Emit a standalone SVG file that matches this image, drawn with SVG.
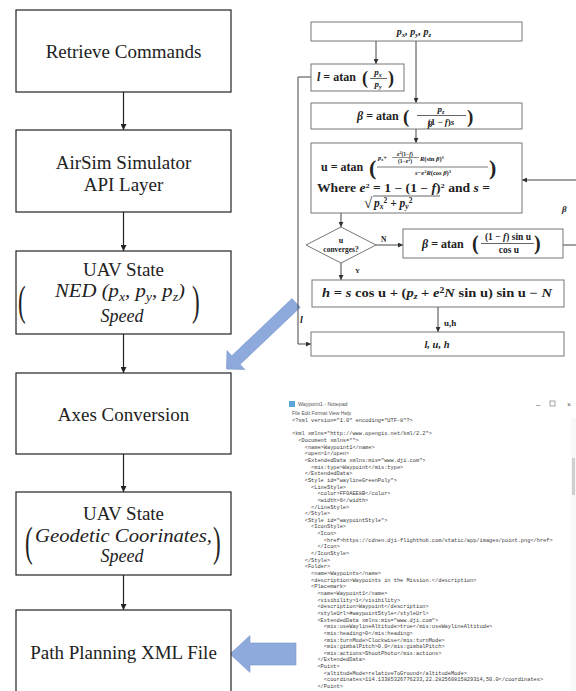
<svg xmlns="http://www.w3.org/2000/svg" width="576" height="691" viewBox="0 0 576 691">
<defs>
<marker id="ah" viewBox="0 0 8 8" refX="8" refY="4" markerWidth="6" markerHeight="6" markerUnits="userSpaceOnUse" orient="auto">
<path d="M0,0 L8,4 L0,8 Z" fill="#222"/>
</marker>
<marker id="ah2" viewBox="0 0 8 8" refX="8" refY="4" markerWidth="5" markerHeight="5" markerUnits="userSpaceOnUse" orient="auto">
<path d="M0,0 L8,4 L0,8 Z" fill="#333"/>
</marker>
</defs>
<style>
.box{fill:#fff;stroke:#222;stroke-width:1.2}
.rbox{fill:#fff;stroke:#777;stroke-width:1}
.lt{font-family:"Liberation Serif",serif;font-size:19px;fill:#222;text-anchor:middle}
.mt{font-family:"Liberation Serif",serif;font-style:italic;font-size:18px;fill:#222}
.par{font-family:"Liberation Serif",serif;font-size:46px;fill:#222;font-weight:normal}
.conn{fill:none;stroke:#222;stroke-width:1.2}
.rconn{fill:none;stroke:#444;stroke-width:1}
.f{font-family:"Liberation Serif",serif;font-weight:bold;fill:#222}
.i{font-style:italic}
.blue{fill:#8EA9DB;stroke:#7C98CF;stroke-width:0.6}
.code{font-family:"Liberation Mono",monospace;font-size:5.3px;fill:#3a3a3a;white-space:pre}
.ui{font-family:"Liberation Sans",sans-serif;fill:#555}
</style>

<!-- Notepad screenshot -->
<g id="notepad">
<rect x="285" y="396" width="291" height="295" fill="#fff"/>
<rect x="289" y="401" width="6" height="6" fill="#5aa7d8"/>
<text class="ui" x="298" y="406" font-size="5.3">Waypoint1 - Notepad</text>
<text class="ui" x="536" y="407" font-size="8">–</text>
<rect x="550" y="401" width="5" height="5" fill="none" stroke="#666" stroke-width="0.6"/>
<text class="ui" x="567" y="407" font-size="7">×</text>
<text class="ui" x="292" y="415" font-size="5" fill="#333">File  Edit  Format  View  Help</text>
<rect x="571" y="418" width="5" height="273" fill="#f8f8f8"/>
<rect x="572" y="458" width="3" height="37" fill="#cfcfcf"/>
<text class="code" x="292" y="422">&lt;?xml version="1.0" encoding="UTF-8"?&gt;</text>
<text class="code" x="292" y="435.3">&lt;kml xmlns="http://www.opengis.net/kml/2.2"&gt;</text>
<text class="code" x="292" y="442">  &lt;Document xmlns=""&gt;</text>
<text class="code" x="292" y="448.6">    &lt;name&gt;Waypoint1&lt;/name&gt;</text>
<text class="code" x="292" y="455.3">    &lt;open&gt;1&lt;/open&gt;</text>
<text class="code" x="292" y="461.9">    &lt;ExtendedData xmlns:mis="www.dji.com"&gt;</text>
<text class="code" x="292" y="468.6">      &lt;mis:type&gt;Waypoint&lt;/mis:type&gt;</text>
<text class="code" x="292" y="475.2">    &lt;/ExtendedData&gt;</text>
<text class="code" x="292" y="481.9">    &lt;Style id="waylineGreenPoly"&gt;</text>
<text class="code" x="292" y="488.5">      &lt;LineStyle&gt;</text>
<text class="code" x="292" y="495.2">        &lt;color&gt;FF0AEE8B&lt;/color&gt;</text>
<text class="code" x="292" y="501.8">        &lt;width&gt;6&lt;/width&gt;</text>
<text class="code" x="292" y="508.5">      &lt;/LineStyle&gt;</text>
<text class="code" x="292" y="515.1">    &lt;/Style&gt;</text>
<text class="code" x="292" y="521.8">    &lt;Style id="waypointStyle"&gt;</text>
<text class="code" x="292" y="528.4">      &lt;IconStyle&gt;</text>
<text class="code" x="292" y="535.1">        &lt;Icon&gt;</text>
<text class="code" x="292" y="541.7">          &lt;href&gt;https://cdnen.dji-flighthub.com/static/app/images/point.png&lt;/href&gt;</text>
<text class="code" x="292" y="548.4">        &lt;/Icon&gt;</text>
<text class="code" x="292" y="555">      &lt;/IconStyle&gt;</text>
<text class="code" x="292" y="561.7">    &lt;/Style&gt;</text>
<text class="code" x="292" y="568.3">    &lt;Folder&gt;</text>
<text class="code" x="292" y="575">      &lt;name&gt;Waypoints&lt;/name&gt;</text>
<text class="code" x="292" y="581.6">      &lt;description&gt;Waypoints in the Mission.&lt;/description&gt;</text>
<text class="code" x="292" y="588.3">      &lt;Placemark&gt;</text>
<text class="code" x="292" y="594.9">        &lt;name&gt;Waypoint1&lt;/name&gt;</text>
<text class="code" x="292" y="601.6">        &lt;visibility&gt;1&lt;/visibility&gt;</text>
<text class="code" x="292" y="608.2">        &lt;description&gt;Waypoint&lt;/description&gt;</text>
<text class="code" x="292" y="614.9">        &lt;styleUrl&gt;#waypointStyle&lt;/styleUrl&gt;</text>
<text class="code" x="292" y="621.5">        &lt;ExtendedData xmlns:mis="www.dji.com"&gt;</text>
<text class="code" x="292" y="628.2">          &lt;mis:useWaylineAltitude&gt;true&lt;/mis:useWaylineAltitude&gt;</text>
<text class="code" x="292" y="634.8">          &lt;mis:heading&gt;0&lt;/mis:heading&gt;</text>
<text class="code" x="292" y="641.5">          &lt;mis:turnMode&gt;Clockwise&lt;/mis:turnMode&gt;</text>
<text class="code" x="292" y="648.1">          &lt;mis:gimbalPitch&gt;0.0&lt;/mis:gimbalPitch&gt;</text>
<text class="code" x="292" y="654.8">          &lt;mis:actions&gt;ShootPhoto&lt;/mis:actions&gt;</text>
<text class="code" x="292" y="661.4">        &lt;/ExtendedData&gt;</text>
<text class="code" x="292" y="668.1">        &lt;Point&gt;</text>
<text class="code" x="292" y="674.7">          &lt;altitudeMode&gt;relativeToGround&lt;/altitudeMode&gt;</text>
<text class="code" x="292" y="681.4">          &lt;coordinates&gt;114.13385326776233,22.282560815829314,50.0&lt;/coordinates&gt;</text>
<text class="code" x="292" y="688">        &lt;/Point&gt;</text>
</g>

<!-- Blue block arrows -->
<g id="blue-arrows">
<polygon class="blue" transform="translate(226.5,369) rotate(-43.5)" points="0,0 13,-13 13,-6 96,-6 96,6 13,6 13,13"/>
<polygon class="blue" points="230,654 250,635.5 250,643 296,643 296,665 250,665 250,672.5"/>
</g>

<!-- Connectors -->
<g id="connectors">
<line class="conn" x1="123.5" y1="92" x2="123.5" y2="130" marker-end="url(#ah)"/>
<line class="conn" x1="123.5" y1="212" x2="123.5" y2="251" marker-end="url(#ah)"/>
<line class="conn" x1="123.5" y1="334" x2="123.5" y2="373" marker-end="url(#ah)"/>
<line class="conn" x1="123.5" y1="454" x2="123.5" y2="492" marker-end="url(#ah)"/>
<line class="conn" x1="123.5" y1="575" x2="123.5" y2="610" marker-end="url(#ah)"/>
<line class="rconn" x1="376" y1="41" x2="376" y2="64" marker-end="url(#ah2)"/>
<line class="rconn" x1="416" y1="41" x2="416" y2="103" marker-end="url(#ah2)"/>
<polyline class="rconn" points="311,77 298,77 298,344 311,344" marker-end="url(#ah2)"/>
<line class="rconn" x1="416" y1="129" x2="416" y2="143" marker-end="url(#ah2)"/>
<line class="rconn" x1="341" y1="213" x2="341" y2="227" marker-end="url(#ah2)"/>
<line class="rconn" x1="376" y1="245" x2="403" y2="245" marker-end="url(#ah2)"/>
<line class="rconn" x1="563" y1="245" x2="576" y2="245"/>
<line class="rconn" x1="576" y1="180" x2="522" y2="180" marker-end="url(#ah2)"/>
<line class="rconn" x1="341" y1="263" x2="341" y2="280" marker-end="url(#ah2)"/>
<line class="rconn" x1="438" y1="307" x2="438" y2="332" marker-end="url(#ah2)"/>
<text class="f" x="381" y="242" font-size="7.5">N</text>
<text class="f" x="355" y="273" font-size="7">Y</text>
<text class="f" x="444" y="326" font-size="9">u,h</text>
<text class="f i" x="300" y="323" font-size="10">l</text>
<text class="f i" x="562" y="212" font-size="9">β</text>
</g>

<!-- Left column nodes -->
<g id="n-retrieve">
<rect class="box" x="16" y="10" width="215" height="82"/>
<text class="lt" x="123.5" y="58">Retrieve Commands</text>
</g>
<g id="n-airsim">
<rect class="box" x="16" y="130" width="215" height="82"/>
<text class="lt" x="123.5" y="169">AirSim Simulator</text>
<text class="lt" x="123.5" y="191">API Layer</text>
</g>
<g id="n-uav-ned">
<rect class="box" x="16" y="251" width="215" height="83"/>
<text class="lt" x="123.5" y="276">UAV State</text>
<text class="par" transform="translate(18,315) scale(0.5,0.92)">(</text>
<text class="mt" x="55" y="297" textLength="130" lengthAdjust="spacingAndGlyphs">NED (p<tspan font-size="12" dy="4">x</tspan><tspan dy="-4">, p</tspan><tspan font-size="12" dy="4">y</tspan><tspan dy="-4">, p</tspan><tspan font-size="12" dy="4">z</tspan><tspan dy="-4">)</tspan></text>
<text class="mt" x="122" y="322" text-anchor="middle">Speed</text>
<text class="par" transform="translate(192,315) scale(0.5,0.92)">)</text>
</g>
<g id="n-axes">
<rect class="box" x="16" y="373" width="215" height="81"/>
<text class="lt" x="123.5" y="421">Axes Conversion</text>
</g>
<g id="n-uav-geo">
<rect class="box" x="16" y="492" width="215" height="83"/>
<text class="lt" x="123.5" y="520">UAV State</text>
<text class="par" transform="translate(25,556) scale(0.5,0.92)">(</text>
<text class="mt" x="35" y="542" textLength="177" lengthAdjust="spacingAndGlyphs">Geodetic Coorinates,</text>
<text class="mt" x="122" y="562" text-anchor="middle">Speed</text>
<text class="par" transform="translate(213,556) scale(0.5,0.92)">)</text>
</g>
<g id="n-path-xml">
<rect class="box" x="16" y="610" width="215" height="90"/>
<text class="lt" x="123.5" y="659">Path Planning XML File</text>
</g>

<!-- Right flowchart nodes -->
<g id="r-input">
<rect class="rbox" x="311" y="22" width="211" height="19"/>
<text class="f i" x="414" y="35" font-size="10" text-anchor="middle">p<tspan font-size="7" dy="2">x</tspan><tspan dy="-2">, p</tspan><tspan font-size="7" dy="2">y</tspan><tspan dy="-2">, p</tspan><tspan font-size="7" dy="2">z</tspan></text>
</g>
<g id="r-l">
<rect class="rbox" x="311" y="64" width="93" height="27"/>
<text class="f" x="317" y="81" font-size="12"><tspan class="i">l</tspan> = atan</text>
<text class="f" x="362" y="84" font-size="18" font-weight="normal">(</text>
<text class="f i" x="378" y="75" font-size="9" text-anchor="middle">p<tspan font-size="6" dy="1.5">x</tspan></text>
<line x1="370" y1="78.5" x2="387" y2="78.5" stroke="#222" stroke-width="0.7"/>
<text class="f i" x="378" y="87" font-size="9" text-anchor="middle">p<tspan font-size="6" dy="1.5">y</tspan></text>
<text class="f" x="388" y="84" font-size="18" font-weight="normal">)</text>
</g>
<g id="r-beta1">
<rect class="rbox" x="311" y="103" width="211" height="26"/>
<text class="f" x="357" y="120" font-size="12"><tspan class="i">β</tspan> = atan</text>
<text class="f" x="403" y="123" font-size="19" font-weight="normal">(</text>
<text class="f i" x="441" y="112" font-size="9" text-anchor="middle">p<tspan font-size="6" dy="1.5">z</tspan></text>
<line x1="417" y1="115.5" x2="466" y2="115.5" stroke="#222" stroke-width="0.7"/>
<text class="f" x="441" y="125" font-size="9" text-anchor="middle">(1 − <tspan class="i">f</tspan>)<tspan class="i">s</tspan></text>
<text class="f i" x="430" y="127" font-size="9" text-anchor="middle">β</text>
<text class="f" x="467" y="123" font-size="19" font-weight="normal">)</text>
</g>
<g id="r-u">
<rect class="rbox" x="311" y="143" width="211" height="70"/>
<text class="f" x="321" y="171" font-size="12">u = atan</text>
<text class="f" x="369" y="175" font-size="22" font-weight="normal">(</text>
<text class="f" x="378" y="160" font-size="6.5"><tspan class="i">p</tspan><tspan font-size="4.5" dy="1">z</tspan><tspan dy="-1">+</tspan></text>
<text class="f" x="405" y="155.5" font-size="5.5" text-anchor="middle"><tspan class="i">e</tspan><tspan font-size="4" dy="-2">2</tspan><tspan dy="2">(1−</tspan><tspan class="i">f</tspan>)</text>
<line x1="392" y1="157.5" x2="419" y2="157.5" stroke="#222" stroke-width="0.5"/>
<text class="f" x="405" y="163" font-size="5.5" text-anchor="middle">(1−<tspan class="i">e</tspan><tspan font-size="4" dy="-2">2</tspan><tspan dy="2">)</tspan></text>
<text class="f" x="420" y="161" font-size="6.5"><tspan class="i">R</tspan>(sin <tspan class="i">β</tspan>)<tspan font-size="4.5" dy="-2.5">3</tspan></text>
<line x1="377" y1="167" x2="488" y2="167" stroke="#222" stroke-width="0.6"/>
<text class="f" x="433" y="175" font-size="6.5" text-anchor="middle"><tspan class="i">s</tspan>−<tspan class="i">e</tspan><tspan font-size="4.5" dy="-2.5">2</tspan><tspan dy="2.5" class="i">R</tspan>(cos <tspan class="i">β</tspan>)<tspan font-size="4.5" dy="-2.5">3</tspan></text>
<text class="f" x="489" y="175" font-size="22" font-weight="normal">)</text>
<text class="f" x="317" y="192" font-size="11.5" textLength="173" lengthAdjust="spacingAndGlyphs">Where <tspan class="i">e</tspan><tspan font-size="7" dy="-4">2</tspan><tspan dy="4"> = 1 − (1 − </tspan><tspan class="i">f</tspan>)<tspan font-size="7" dy="-4">2</tspan><tspan dy="4"> and </tspan><tspan class="i">s</tspan> =</text>
<text class="f" x="364" y="208" font-size="15" font-weight="normal">√</text>
<line x1="373" y1="196" x2="440" y2="196" stroke="#222" stroke-width="0.7"/>
<text class="f i" x="374" y="207" font-size="11.5">p<tspan font-size="7.5" dy="2">x</tspan><tspan font-size="7.5" dy="-6" font-style="normal">2</tspan><tspan dy="4" font-style="normal"> + </tspan>p<tspan font-size="7.5" dy="2">y</tspan><tspan font-size="7.5" dy="-6" font-style="normal">2</tspan></text>
</g>
<g id="r-diamond">
<polygon points="341,227 376,245 341,263 306,245" fill="#fff" stroke="#777" stroke-width="1"/>
<text class="f" x="341" y="243" font-size="8" text-anchor="middle">u</text>
<text class="f" x="341" y="252" font-size="7.5" text-anchor="middle">converges?</text>
</g>
<g id="r-beta2">
<rect class="rbox" x="403" y="229" width="160" height="29"/>
<text class="f" x="422" y="248" font-size="12"><tspan class="i">β</tspan> = atan</text>
<text class="f" x="472" y="250" font-size="20" font-weight="normal">(</text>
<text class="f" x="508" y="240" font-size="9.5" text-anchor="middle">(1 − <tspan class="i">f</tspan>) sin u</text>
<line x1="481" y1="243.5" x2="534" y2="243.5" stroke="#222" stroke-width="0.7"/>
<text class="f" x="509" y="253" font-size="9.5" text-anchor="middle">cos u</text>
<text class="f" x="534" y="250" font-size="20" font-weight="normal">)</text>
</g>
<g id="r-h">
<rect class="rbox" x="312" y="280" width="252" height="27"/>
<text class="f" x="322" y="297" font-size="12" textLength="230" lengthAdjust="spacingAndGlyphs"><tspan class="i">h</tspan> = <tspan class="i">s</tspan> cos u +  (<tspan class="i">p</tspan><tspan font-size="8" dy="2" class="i">z</tspan><tspan dy="-2"> + </tspan><tspan class="i">e</tspan><tspan font-size="8" dy="-4">2</tspan><tspan dy="4" class="i">N</tspan> sin u) sin u  − <tspan class="i">N</tspan></text>
</g>
<g id="r-luh">
<rect class="rbox" x="311" y="332" width="253" height="24"/>
<text class="f i" x="437" y="347.5" font-size="10.5" text-anchor="middle">l, u, h</text>
</g>
</svg>
